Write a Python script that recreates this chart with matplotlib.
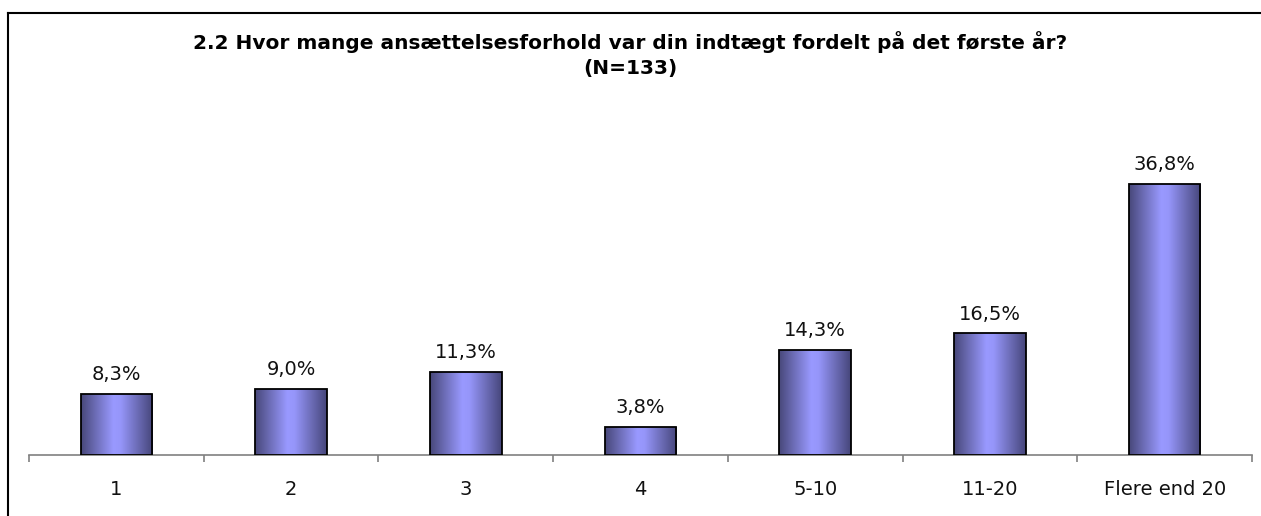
import numpy as np
import matplotlib.pyplot as plt
from matplotlib.colors import LinearSegmentedColormap
from matplotlib.lines import Line2D

categories = ['1', '2', '3', '4', '5-10', '11-20', 'Flere end 20']
values = [8.3, 9.0, 11.3, 3.8, 14.3, 16.5, 36.8]
value_labels = ['8,3%', '9,0%', '11,3%', '3,8%', '14,3%', '16,5%', '36,8%']
title = '2.2 Hvor mange ansættelsesforhold var din indtægt fordelt på det første år?\n(N=133)'

W, H = 1261, 516
fig = plt.figure(figsize=(W / 100, H / 100), dpi=100)

# outer frame (runs off right and bottom edges, like the source)
fig.add_artist(Line2D([8 / W, 8 / W], [0, 1 - 13 / H], color='black', lw=1.5))
fig.add_artist(Line2D([8 / W, 1.0], [1 - 13 / H, 1 - 13 / H], color='black', lw=1.5))

ax = fig.add_axes([29 / W, 1 - 455 / H, (1252 - 29) / W, (455 - 160) / H])
x = np.arange(len(categories))
ax.set_xlim(-0.5, len(categories) - 0.5)
ax.set_ylim(0, 40)

cmap = LinearSegmentedColormap.from_list('bar', [
    (0.0, '#48487a'), (0.45, '#9999ff'), (0.55, '#9696fa'), (1.0, '#46467a')])
grad = np.linspace(0, 1, 256).reshape(1, -1)

width = 0.41
bars = ax.bar(x, values, width=width, color='none', edgecolor='black', linewidth=1.3, zorder=3)
for b in bars:
    x0, y0 = b.get_x(), b.get_y()
    im = ax.imshow(grad, cmap=cmap, aspect='auto', zorder=2,
                   extent=[x0, x0 + b.get_width(), y0, y0 + b.get_height()])
    im.set_clip_path(b)

for xi, v, lab in zip(x, values, value_labels):
    ax.annotate(lab, (xi, v), xytext=(0, 7), textcoords='offset points',
                ha='center', va='bottom', fontsize=14, color='#111111')

for s in ['top', 'right', 'left']:
    ax.spines[s].set_visible(False)
ax.spines['bottom'].set_color('#808080')
ax.spines['bottom'].set_linewidth(1.2)
ax.set_yticks([])
ax.set_xticks(np.arange(len(categories) + 1) - 0.5)
ax.set_xticklabels([])
ax.set_xticks(x, minor=True)
ax.set_xticklabels(categories, minor=True, fontsize=14, color='#111111')
ax.tick_params(axis='x', which='major', length=5, color='#808080', width=1.2)
ax.tick_params(axis='x', which='minor', length=0, pad=18)

fig.text(0.5, 1 - 55 / H, title, ha='center', va='center', fontsize=14.5,
         fontweight='bold', linespacing=1.4)

fig.savefig('out.png', dpi=100)
